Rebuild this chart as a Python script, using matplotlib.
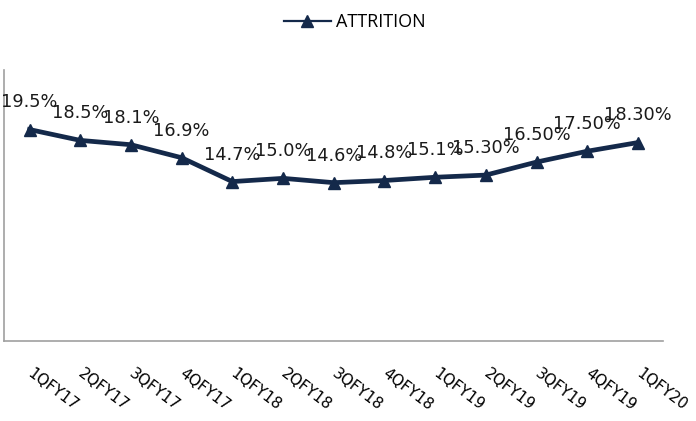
import matplotlib
matplotlib.use('Agg')
import matplotlib.pyplot as plt
from matplotlib.lines import Line2D

# data
quarters = ['1QFY17', '2QFY17', '3QFY17', '4QFY17', '1QFY18', '2QFY18', '3QFY18',
            '4QFY18', '1QFY19', '2QFY19', '3QFY19', '4QFY19', '1QFY20']
attrition = [19.5, 18.5, 18.1, 16.9, 14.7, 15.0, 14.6, 14.8, 15.1, 15.3, 16.5, 17.5, 18.3]
point_labels = ['19.5%', '18.5%', '18.1%', '16.9%', '14.7%', '15.0%', '14.6%',
                '14.8%', '15.1%', '15.30%', '16.50%', '17.50%', '18.30%']

navy = '#14294a'

fig = plt.figure(figsize=(6.96, 4.21), dpi=100)
ax = fig.add_axes([0.006, 0.19, 0.947, 0.644])

x = list(range(len(quarters)))
ax.plot(x, attrition, color=navy, lw=3.4, marker='^', markersize=9,
        solid_joinstyle='round')

for xi, yi, lab in zip(x, attrition, point_labels):
    ax.annotate(lab, (xi, yi), xytext=(0, 13), textcoords='offset points',
                ha='center', va='bottom', fontsize=12.8, color='#1a1a1a',
                family='DejaVu Sans')

ax.set_xlim(-0.5, len(quarters) - 0.5)
ax.set_ylim(0, 25)
ax.set_yticks([])
ax.set_xticks(x)
ax.set_xticklabels(quarters, rotation=-37, ha='left', va='center',
                   rotation_mode='anchor', fontsize=11, family='DejaVu Sans')
ax.tick_params(axis='x', length=0, pad=22)

for s in ['top', 'right']:
    ax.spines[s].set_visible(False)
for s in ['left', 'bottom']:
    ax.spines[s].set_color('#a0a0a0')
    ax.spines[s].set_linewidth(1.2)

handle = Line2D([], [], color=navy, lw=1.6, marker='^', markersize=8)
fig.legend(handles=[handle], labels=['ATTRITION'], loc='center',
           bbox_to_anchor=(0.51, 0.948), frameon=False,
           prop={'family': 'Open Sans', 'size': 13},
           handlelength=2.6, handletextpad=0.3)

fig.savefig('out.png', dpi=100)
